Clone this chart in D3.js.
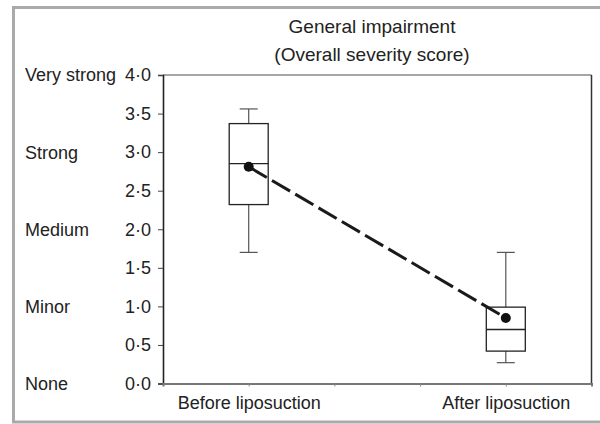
<!DOCTYPE html>
<html><head><meta charset="utf-8">
<script src="https://cdn.jsdelivr.net/npm/d3@7"></script>
<style>body{margin:0;background:#fff}svg{display:block}text{font-family:"Liberation Sans",Arial,sans-serif;fill:#222}</style>
</head><body><svg id="c" width="600" height="424"></svg>
<script>
const titleLines = ["General impairment", "(Overall severity score)"];
const groups = ["Before liposuction", "After liposuction"];
const groupPos = [1, 4];
const whiskerLow = [1.70, 0.27];
const q1 = [2.32, 0.42];
const median = [2.85, 0.70];
const q3 = [3.37, 0.99];
const whiskerHigh = [3.56, 1.70];
const means = [2.81, 0.85];
const yTicks = [0, 0.5, 1, 1.5, 2, 2.5, 3, 3.5, 4];
const yTickLabels = ["0·0","0·5","1·0","1·5","2·0","2·5","3·0","3·5","4·0"];
const severityValues = [4, 3, 2, 1, 0];
const severityLabels = ["Very strong", "Strong", "Medium", "Minor", "None"];
const xTicks = [1, 2, 3, 4];

const svg = d3.select("#c");
const L = 163, R = 591.5, T = 75, B = 383.5;
const x = d3.scaleLinear().domain([0, 5]).range([L, R]);
const y = d3.scaleLinear().domain([0, 4]).range([B, T]);

// outer frame
svg.append("rect").attr("x", 13.5).attr("y", 7.5).attr("width", 600).attr("height", 414.5)
  .attr("fill", "none").attr("stroke", "#aaa").attr("stroke-width", 3);

// title
svg.selectAll("text.title").data(titleLines).join("text").attr("class", "title")
  .attr("x", 372).attr("y", (d, i) => 33 + i * 28).attr("text-anchor", "middle")
  .style("font-size", "19px").text(d => d);

// plot frame top/right
svg.append("line").attr("x1", L).attr("x2", R).attr("y1", T).attr("y2", T).attr("stroke", "#888").attr("stroke-width", 1.5);
svg.append("line").attr("x1", R).attr("x2", R).attr("y1", T).attr("y2", B).attr("stroke", "#333").attr("stroke-width", 1.5);

// y axis
const yAxis = d3.axisLeft(y).tickValues(yTicks).tickFormat((d, i) => yTickLabels[i]).tickSize(5).tickPadding(7);
const gy = svg.append("g").attr("transform", `translate(${L},0)`).call(yAxis);
gy.select(".domain").attr("stroke", "#222").attr("stroke-width", 1.6);
gy.selectAll(".tick line").attr("stroke", "#444");
gy.selectAll("text").style("font-size", "18px").attr("fill", "#222").attr("font-family", null);

// severity labels
svg.selectAll("text.sev").data(severityValues).join("text").attr("class", "sev")
  .attr("x", 25).attr("y", d => y(d)).attr("dy", "0.36em")
  .style("font-size", "18px").text((d, i) => severityLabels[i]);

// x axis
const xAxis = d3.axisBottom(x).tickValues(xTicks).tickFormat(d => { const k = groupPos.indexOf(d); return k >= 0 ? groups[k] : ""; }).tickSize(3).tickPadding(10);
const gx = svg.append("g").attr("transform", `translate(0,${B})`).call(xAxis);
gx.select(".domain").attr("stroke", "#777").attr("stroke-width", 2);
gx.selectAll(".tick line").attr("stroke", "#888");
gx.selectAll("text").style("font-size", "18px").attr("fill", "#222").attr("font-family", null);

// boxes
const boxW = 39, capW = 18;
const data = groups.map((g, i) => ({ p: groupPos[i], lo: whiskerLow[i], q1: q1[i], med: median[i], q3: q3[i], hi: whiskerHigh[i], mean: means[i] }));
const bg = svg.selectAll("g.box").data(data).join("g").attr("class", "box");
bg.append("line").attr("x1", d => x(d.p)).attr("x2", d => x(d.p)).attr("y1", d => y(d.hi)).attr("y2", d => y(d.q3)).attr("stroke", "#555").attr("stroke-width", 1.2);
bg.append("line").attr("x1", d => x(d.p)).attr("x2", d => x(d.p)).attr("y1", d => y(d.q1)).attr("y2", d => y(d.lo)).attr("stroke", "#555").attr("stroke-width", 1.2);
bg.append("line").attr("x1", d => x(d.p) - capW / 2).attr("x2", d => x(d.p) + capW / 2).attr("y1", d => y(d.hi)).attr("y2", d => y(d.hi)).attr("stroke", "#555").attr("stroke-width", 1.2);
bg.append("line").attr("x1", d => x(d.p) - capW / 2).attr("x2", d => x(d.p) + capW / 2).attr("y1", d => y(d.lo)).attr("y2", d => y(d.lo)).attr("stroke", "#555").attr("stroke-width", 1.2);
bg.append("rect").attr("x", d => x(d.p) - boxW / 2).attr("width", boxW).attr("y", d => y(d.q3)).attr("height", d => y(d.q1) - y(d.q3))
  .attr("fill", "#fff").attr("stroke", "#222").attr("stroke-width", 1.3);
bg.append("line").attr("x1", d => x(d.p) - boxW / 2).attr("x2", d => x(d.p) + boxW / 2).attr("y1", d => y(d.med)).attr("y2", d => y(d.med)).attr("stroke", "#222").attr("stroke-width", 1.3);

// mean line
const line = d3.line().x(d => x(d.p)).y(d => y(d.mean));
svg.append("path").datum(data).attr("d", line).attr("fill", "none").attr("stroke", "#1a1a1a")
  .attr("stroke-width", 3).attr("stroke-dasharray", "21 6");
svg.selectAll("circle.mean").data(data).join("circle").attr("class", "mean")
  .attr("cx", d => x(d.p)).attr("cy", d => y(d.mean)).attr("r", 5).attr("fill", "#111");
</script></body></html>
